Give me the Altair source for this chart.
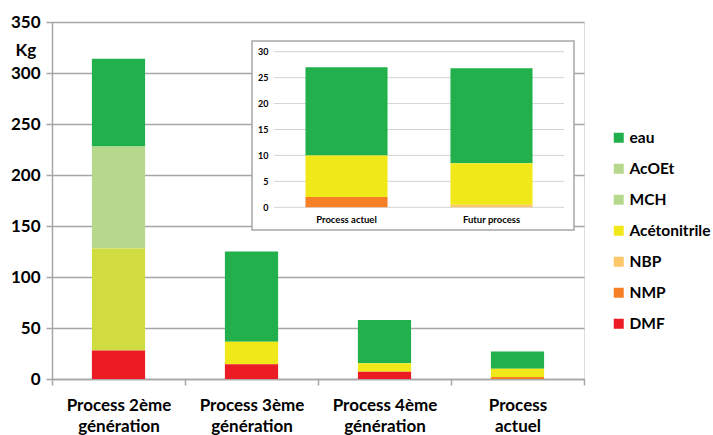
import altair as alt
import pandas as pd

# ---------------- data ----------------
categories = ["Process 2ème|génération", "Process 3ème|génération",
              "Process 4ème|génération", "Process|actuel"]
series = ["eau", "AcOEt", "MCH", "Acétonitrile", "NBP", "NMP", "DMF"]
eau = [86, 88.5, 42.5, 17]
acoet = [100, 0, 0, 0]
mch = [100, 0, 0, 0]
acetonitrile = [0, 22, 8.2, 8]
nbp = [0, 0, 0, 0]
nmp = [0, 0, 0, 2]
dmf = [28, 14.5, 7.2, 0]
y_ticks = [0, 50, 100, 150, 200, 250, 300, 350]

inset_categories = ["Process actuel", "Futur process"]
inset_eau = [17, 18.3]
inset_acoet = [0, 0]
inset_mch = [0, 0]
inset_acetonitrile = [8, 8]
inset_nbp = [0, 0.5]
inset_nmp = [2, 0]
inset_dmf = [0, 0]
inset_ticks = [0, 5, 10, 15, 20, 25, 30]

# ---------------- style ----------------
colors = ["#21b04b", "#b6d88c", "#b6d88c", "#f1e81a", "#fcc86a", "#f58025", "#ec1c24"]
mch_bar1_key = "MCH (2ème génération)"
mch_bar1_color = "#d0dc40"
FONT = "Lato"

main_values = dict(zip(series, [eau, acoet, mch, acetonitrile, nbp, nmp, dmf]))
inset_values = dict(zip(series, [inset_eau, inset_acoet, inset_mch, inset_acetonitrile,
                                 inset_nbp, inset_nmp, inset_dmf]))


def long_table(cats, values, recolor_first_mch):
    rows = []
    for i, s in enumerate(series):
        for j, c in enumerate(cats):
            v = values[s][j]
            if v <= 0:
                continue
            key = s
            if recolor_first_mch and s == "MCH" and j == 0:
                key = mch_bar1_key
            rows.append({"procede": c, "serie": s, "cle": key, "kg": v,
                         "rang": len(series) - 1 - i})
    return pd.DataFrame(rows)


df_main = long_table(categories, main_values, True)
df_inset = long_table(inset_categories, inset_values, False)

color_enc = alt.Color(
    "cle:N",
    scale=alt.Scale(domain=series + [mch_bar1_key], range=colors + [mch_bar1_color]),
    legend=alt.Legend(values=series, title=None, orient="none", legendX=559, legendY=108,
                      symbolType="square", symbolSize=100, symbolStrokeWidth=0,
                      labelFont=FONT, labelFontSize=15.5, labelFontWeight="bold",
                      labelColor="#000000", rowPadding=14, labelOffset=3, padding=0,
                      labelLimit=200),
)
order_enc = alt.Order("rang:Q", sort="ascending")

grid_gray = "#a6a6a6"

main = alt.Chart(df_main).mark_bar(width=alt.RelativeBandSize(0.4)).encode(
    x=alt.X("procede:N", sort=categories,
            scale=alt.Scale(paddingInner=0, paddingOuter=0),
            axis=alt.Axis(title=None, labelExpr="split(datum.label, '|')", labelAngle=0,
                          tickBand="extent", ticks=True, tickSize=6, tickColor=grid_gray,
                          tickWidth=1.5, domainColor=grid_gray, domainWidth=1.5,
                          labelFont=FONT, labelFontSize=17, labelFontWeight="bold",
                          labelColor="#000000", labelPadding=12, labelLineHeight=21,
                          labelBaseline="top", grid=False)),
    y=alt.Y("kg:Q", stack="zero", scale=alt.Scale(domain=[0, 350], nice=False),
            axis=alt.Axis(values=y_ticks, title="Kg", titleAngle=0, titleX=-37, titleY=28,
                          titleAlign="left", titleBaseline="middle", titleFont=FONT,
                          titleFontSize=17, titleFontWeight="bold", titleColor="#000000",
                          grid=True, gridColor=grid_gray, gridWidth=1.5,
                          domainColor=grid_gray, domainWidth=1.5, tickColor=grid_gray,
                          tickWidth=1.5, tickSize=6, labelPadding=6,
                          labelFont=FONT, labelFontSize=17, labelFontWeight="bold",
                          labelColor="#000000")),
    color=color_enc,
    order=order_enc,
)

frame = alt.Chart(pd.DataFrame({"cadre": [0]})).mark_rect(
    fill="white", stroke=grid_gray, strokeWidth=1.5
).encode(x=alt.value(200), x2=alt.value(522), y=alt.value(19), y2=alt.value(208))

inset_y_scale = alt.Scale(domain=[0, 30], range=[185.3, 29.7], nice=False, zero=True)

inset_grid = alt.Chart(pd.DataFrame({"v": inset_ticks})).mark_rule(
    color="#d4d4d4", strokeWidth=1
).encode(y=alt.Y("v:Q", scale=inset_y_scale, axis=None),
         x=alt.value(222), x2=alt.value(512))

inset = alt.Chart(df_inset).mark_bar().encode(
    x=alt.X("procede:N", sort=inset_categories,
            scale=alt.Scale(range=[222, 512], paddingInner=0.434, paddingOuter=0.217),
            axis=alt.Axis(orient="bottom", offset=-171.7, title=None, labelAngle=0,
                          domain=False, ticks=False, grid=False, zindex=1,
                          labelFont=FONT, labelFontSize=9.5, labelFontWeight="bold",
                          labelColor="#000000", labelPadding=7)),
    y=alt.Y("kg:Q", stack="zero", scale=inset_y_scale,
            axis=alt.Axis(orient="left", offset=-222, values=inset_ticks, title=None,
                          domain=False, ticks=False, grid=False, zindex=1,
                          labelFont=FONT, labelFontSize=9, labelFontWeight="bold",
                          labelColor="#000000", labelPadding=6)),
    color=color_enc,
    order=order_enc,
)

chart = alt.layer(main, frame, inset_grid, inset).resolve_scale(
    x="independent", y="independent"
).properties(
    width=532, height=357, autosize="none",
    padding={"left": 52, "top": 22, "right": 129, "bottom": 56},
).configure_view(stroke=None).configure(background="white")

chart.save("out.html", embed_options={"renderer": "svg", "actions": False})
